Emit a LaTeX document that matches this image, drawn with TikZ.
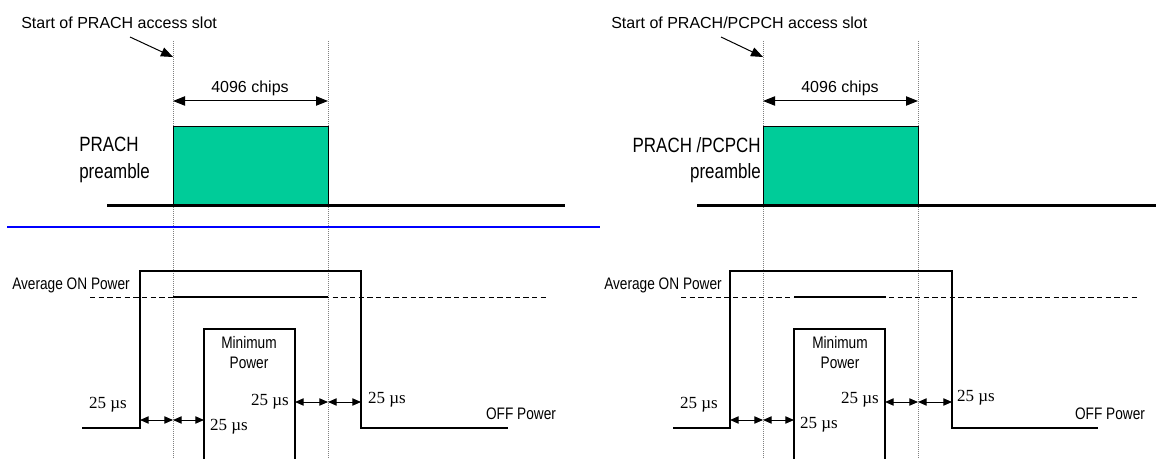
\documentclass[tikz,border=0pt]{standalone}
\usepackage{fontspec}
\setmainfont{Liberation Sans}
\newfontfamily\narrowfont[FakeStretch=0.82]{Liberation Sans}
\newfontfamily\timesfont{Liberation Serif}
\usetikzlibrary{arrows.meta}
\definecolor{Preamble}{HTML}{00CC99}
\definecolor{Rule}{HTML}{0000FF}
\definecolor{Guide}{HTML}{808080}

\begin{document}
\begin{tikzpicture}[x=0.75pt,y=-0.75pt,
    ttl/.style={font=\fontsize{12}{14}\selectfont,inner sep=0pt},
    nar/.style={font=\narrowfont\fontsize{12.5}{15}\selectfont,inner sep=0pt,align=center},
    big/.style={font=\narrowfont\fontsize{15.5}{20}\selectfont,inner sep=0pt},
    us/.style={font=\timesfont\fontsize{12.75}{14}\selectfont,inner sep=0pt},
    vl/.style={draw=Guide,line width=0.6pt,dash pattern=on 0.6pt off 0.9pt},
    pw/.style={line width=2pt},
    avg/.style={line width=0.75pt,dash pattern=on 4pt off 2.5pt},
    dm/.style={{Triangle[length=9pt,width=7pt]}-{Triangle[length=9pt,width=7pt]},line width=0.75pt},
    tw/.style={{Triangle[length=6.5pt,width=5.5pt]}-{Triangle[length=6.5pt,width=5.5pt]},line width=0.75pt},
    ptr/.style={-{Triangle[length=9pt,width=7pt]},line width=0.75pt}]
  \useasboundingbox (0,0) rectangle (1176,459);

  % left panel: PRACH
  \node[ttl,anchor=west] (ltitle) at (21,23) {Start of PRACH access slot};
  \coordinate (lp) at (130,37); \coordinate (lq) at (173,57);
  \draw[ptr] (lp) -- (lq);
  \draw[vl] (173,41) -- (173,459); \draw[vl] (328,41) -- (328,459);
  \node[ttl] (lchips) at (250,88) {4096 chips};
  \coordinate (la) at (173,101); \coordinate (lb) at (328,101);
  \draw[dm] (la) -- (lb);
  \draw[fill=Preamble,line width=0.6pt] (173,126) rectangle (328,206);
  \draw[line width=2.25pt] (107,206) -- (565,206);
  \node[big,anchor=west,align=left] (lpre) at (79,160) {PRACH\\preamble};
  \draw[Rule,line width=1.2pt] (7,227) -- (600,227);

  \draw[avg] (90,297) -- (547,297);
  \draw[pw] (173,297) -- (328,297);
  \draw[pw] (82,428) -- (140,428) -- (140,271) -- (361,271) -- (361,428) -- (508,428);
  \draw[pw] (204,459) -- (204,329) -- (295,329) -- (295,459);
  \node[nar,anchor=west] (lon) at (12,285) {Average ON Power};
  \node[nar] (lmin) at (249,353) {Minimum\\Power};
  \node[nar] (loff) at (521,414) {OFF Power};
  \coordinate (lr1) at (140,420); \coordinate (lr2) at (173,420); \coordinate (lr3) at (204,420);
  \coordinate (lf1) at (295,402); \coordinate (lf2) at (328,402); \coordinate (lf3) at (361,402);
  \draw[tw] (lr1) -- (lr2); \draw[tw] (lr2) -- (lr3);
  \draw[tw] (lf1) -- (lf2); \draw[tw] (lf2) -- (lf3);
  \node[us] (lu1) at (108,405) {25 µs};
  \node[us] (lu2) at (229,427) {25 µs};
  \node[us] (lu3) at (270,402) {25 µs};
  \node[us] (lu4) at (387,400) {25 µs};

  % right panel: PRACH/PCPCH
  \node[ttl,anchor=west] (rtitle) at (611,23) {Start of PRACH/PCPCH access slot};
  \coordinate (rp) at (721,37); \coordinate (rq) at (763,57);
  \draw[ptr] (rp) -- (rq);
  \draw[vl] (763,41) -- (763,459); \draw[vl] (918,41) -- (918,459);
  \node[ttl] (rchips) at (840,88) {4096 chips};
  \coordinate (ra) at (763,101); \coordinate (rb) at (918,101);
  \draw[dm] (ra) -- (rb);
  \draw[fill=Preamble,line width=0.6pt] (763,126) rectangle (918,206);
  \draw[line width=2.25pt] (697,206) -- (1156,206);
  \node[big,anchor=east,align=right] (rpre) at (761,160) {PRACH /PCPCH\\preamble};

  \draw[avg] (681,297) -- (1138,297);
  \draw[pw] (794,297) -- (886,297);
  \draw[pw] (673,428) -- (730,428) -- (730,271) -- (952,271) -- (952,428) -- (1098,428);
  \draw[pw] (794,459) -- (794,329) -- (885,329) -- (885,459);
  \node[nar,anchor=west] (ron) at (604,285) {Average ON Power};
  \node[nar] (rmin) at (840,353) {Minimum\\Power};
  \node[nar] (roff) at (1110,414) {OFF Power};
  \coordinate (rr1) at (730,420); \coordinate (rr2) at (763,420); \coordinate (rr3) at (794,420);
  \coordinate (rf1) at (885,402); \coordinate (rf2) at (918,402); \coordinate (rf3) at (952,402);
  \draw[tw] (rr1) -- (rr2); \draw[tw] (rr2) -- (rr3);
  \draw[tw] (rf1) -- (rf2); \draw[tw] (rf2) -- (rf3);
  \node[us] (ru1) at (699,405) {25 µs};
  \node[us] (ru2) at (819,425) {25 µs};
  \node[us] (ru3) at (860,400) {25 µs};
  \node[us] (ru4) at (976,398) {25 µs};
\end{tikzpicture}
\end{document}
